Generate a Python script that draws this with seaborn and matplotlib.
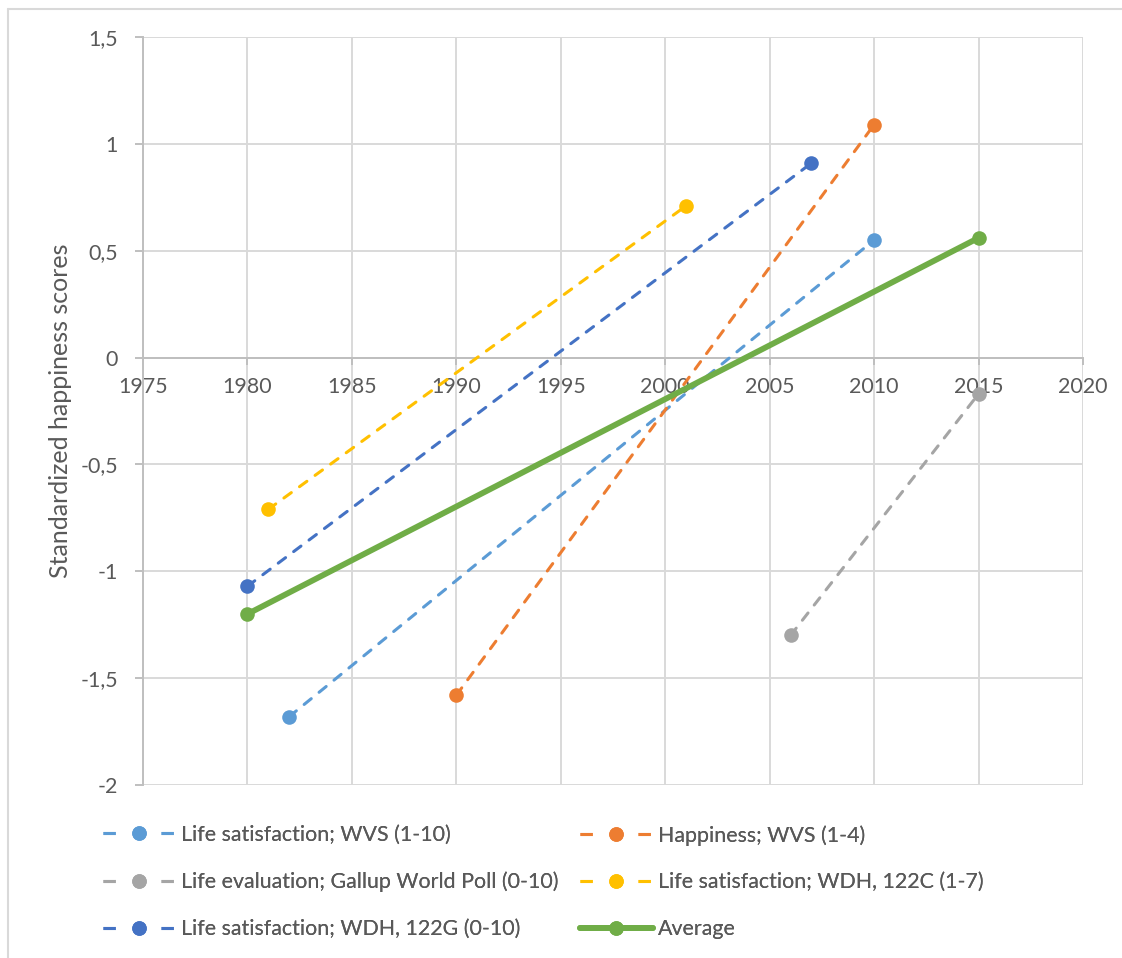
import matplotlib
matplotlib.use("Agg")
import matplotlib.pyplot as plt
from matplotlib.lines import Line2D
import seaborn as sns
import pandas as pd

# ---------------- data ----------------
series_names = [
    "Life satisfaction; WVS (1-10)",
    "Happiness; WVS (1-4)",
    "Life evaluation; Gallup World Poll (0-10)",
    "Life satisfaction; WDH, 122C (1-7)",
    "Life satisfaction; WDH, 122G (0-10)",
    "Average",
]
ls_wvs_years = [1982, 2010]
ls_wvs_values = [-1.68, 0.55]
happ_wvs_years = [1990, 2010]
happ_wvs_values = [-1.58, 1.09]
gallup_years = [2006, 2015]
gallup_values = [-1.30, -0.17]
wdh_122c_years = [1981, 2001]
wdh_122c_values = [-0.71, 0.71]
wdh_122g_years = [1980, 2007]
wdh_122g_values = [-1.07, 0.91]
average_years = [1980, 2015]
average_values = [-1.20, 0.56]

x_ticks = [1975, 1980, 1985, 1990, 1995, 2000, 2005, 2010, 2015, 2020]
y_ticks = [-2, -1.5, -1, -0.5, 0, 0.5, 1, 1.5]
y_tick_labels = ["-2", "-1,5", "-1", "-0,5", "0", "0,5", "1", "1,5"]
y_label = "Standardized happiness scores"

colors = ["#5B9BD5", "#ED7D31", "#A5A5A5", "#FFC000", "#4472C4", "#70AD47"]

# ---------------- style ----------------
sns.set_theme(style="white")
plt.rcParams["font.family"] = ["Lato", "DejaVu Sans"]
FS = 15.4
FS_TITLE = 18
TXT = "#595959"
GRID = "#D9D9D9"
AXC = "#BFBFBF"

W, H = 1122, 958
fig = plt.figure(figsize=(W / 100, H / 100), dpi=100)
ax = fig.add_axes([143 / W, 1 - 785 / H, 940 / W, 748 / H])

all_years = [ls_wvs_years, happ_wvs_years, gallup_years, wdh_122c_years,
             wdh_122g_years, average_years]
all_values = [ls_wvs_values, happ_wvs_values, gallup_values, wdh_122c_values,
              wdh_122g_values, average_values]

handles = []
for i, (name, xs, ys) in enumerate(zip(series_names, all_years, all_values)):
    df = pd.DataFrame({"year": xs, "score": ys})
    is_avg = name == "Average"
    lw = 4.2 if is_avg else 2.2
    n_before = len(ax.get_lines())
    sns.lineplot(data=df, x="year", y="score", ax=ax, color=colors[i],
                 linewidth=lw, marker="o", markersize=10.5,
                 markeredgewidth=0, markeredgecolor=colors[i],
                 linestyle="-" if is_avg else "--", zorder=3 + i,
                 estimator=None, sort=False)
    line = ax.get_lines()[n_before]
    if not is_avg:
        line.set_dashes((3.0, 3.3))
        line.set_dash_capstyle("round")
        h = Line2D([], [], color=colors[i], linewidth=lw, marker="o",
                   markersize=10.5, markeredgewidth=0,
                   dashes=(4.0, 15.0), dash_capstyle="butt")
    else:
        line.set_solid_capstyle("round")
        h = Line2D([], [], color=colors[i], linewidth=lw, marker="o",
                   markersize=10.5, markeredgewidth=0, linestyle="-")
    handles.append(h)

# ---------------- axes ----------------
ax.set_xlim(1975, 2020)
ax.set_ylim(-2, 1.5)
ax.set_xticks(x_ticks)
ax.set_xticklabels([str(v) for v in x_ticks])
ax.set_yticks(y_ticks)
ax.set_yticklabels(y_tick_labels)
ax.grid(True, color=GRID, linewidth=1.4)
ax.set_axisbelow(True)
for s in ["top", "right"]:
    ax.spines[s].set_visible(False)
ax.spines["bottom"].set_position(("data", 0))
ax.spines["bottom"].set_color(AXC)
ax.spines["bottom"].set_linewidth(1.4)
ax.spines["bottom"].set_zorder(2)
ax.spines["left"].set_color(AXC)
ax.spines["left"].set_linewidth(1.4)
ax.tick_params(axis="x", direction="out", length=5, width=1.4, color=AXC,
               labelsize=FS, labelcolor=TXT, pad=9, bottom=True)
ax.tick_params(axis="y", direction="out", length=6, width=1.4, color=AXC,
               labelsize=FS, labelcolor=TXT, pad=12, left=True)
ax.set_xlabel("")
ax.set_ylabel(y_label, fontsize=FS_TITLE, color=TXT)
ax.yaxis.set_label_coords((72 - 143) / 940, 0.5)

# ---------------- legend (two columns, row-major like the original) ----------------
col1 = [0, 2, 4]
col2 = [1, 3, 5]
for cols, xpix in [(col1, 103), (col2, 580)]:
    leg = fig.legend([handles[k] for k in cols], [series_names[k] for k in cols],
                     loc="center left", bbox_to_anchor=(xpix / W, 1 - 882 / H),
                     frameon=False, fontsize=FS, labelcolor=TXT,
                     handlelength=3.4, handletextpad=0.25, borderpad=0,
                     borderaxespad=0, labelspacing=1.25, numpoints=1)
    fig.add_artist(leg)

# outer chart-area border (visible on top and left only)
fig.add_artist(Line2D([8 / W, 1.0], [1 - 9 / H, 1 - 9 / H], transform=fig.transFigure,
                      color=GRID, linewidth=1.5))
fig.add_artist(Line2D([8 / W, 8 / W], [0.0, 1 - 9 / H], transform=fig.transFigure,
                      color=GRID, linewidth=1.5))

fig.savefig("out.png", dpi=100)
